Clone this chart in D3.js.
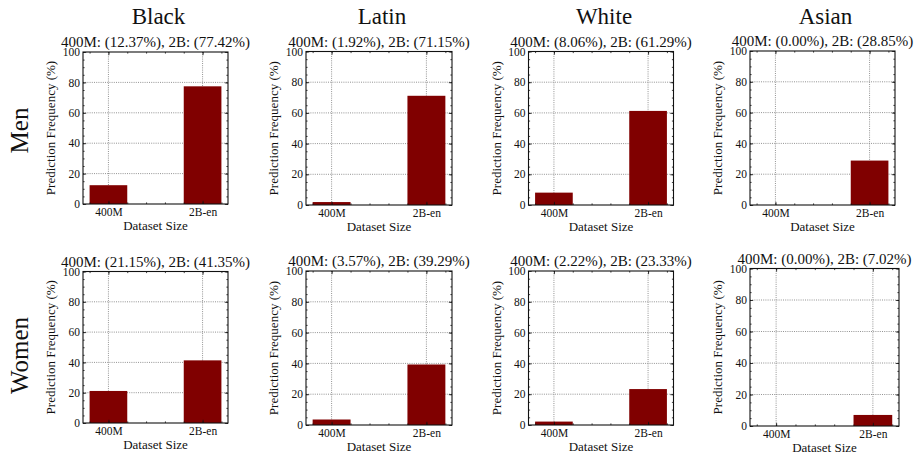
<!DOCTYPE html>
<html><head><meta charset="utf-8">
<script src="https://cdn.jsdelivr.net/npm/d3@7"></script>
<style>
body{margin:0;background:#fff}
svg{display:block}
svg text{font-family:"Liberation Serif","Times New Roman",serif !important;fill:#111}
</style>
</head><body><svg id="c" width="919" height="456" font-family="Liberation Serif, serif"></svg>
<script>
// ---- data ----
const races = ["Black", "Latin", "White", "Asian"];
const genders = ["Men", "Women"];
const datasets = ["400M", "2B-en"];
const men400M = [12.37, 1.92, 8.06, 0.00];
const men2B = [77.42, 71.15, 61.29, 28.85];
const women400M = [21.15, 3.57, 2.22, 0.00];
const women2B = [41.35, 39.29, 23.33, 7.02];
const yTicks = [0, 20, 40, 60, 80, 100];
const yMinorTicks = d3.range(0, 101, 5);
const xMinorTicks = [-0.2, 0, 0.2, 0.4, 0.6, 0.8, 1.0, 1.2];

const values = [[men400M, men2B], [women400M, women2B]];

// ---- layout: [left, top, width, height] of each panel's plot area ----
const panelBoxes = [
  [[83, 52, 145, 152], [306, 51.5, 146, 153.5], [528.5, 51.5, 145, 153.5], [750, 51, 145, 154]],
  [[83, 271.5, 145, 151.5], [306, 271, 146, 154], [528.5, 271, 145, 154], [750, 268.5, 149, 157.5]]
];
const rowLabelCenters = [130.5, 355.5];
const SERIF = "'Liberation Serif', 'Times New Roman', serif";

const svg = d3.select("#c");
const barColor = "#800000";
const fmt = v => v.toFixed(2) + "%";

genders.forEach((g, r) => {
  svg.append("text")
    .attr("transform", `translate(28,${rowLabelCenters[r]}) rotate(-90)`)
    .attr("text-anchor", "middle")
    .attr("font-family", SERIF)
    .style("font-size", "25px")
    .text(g);

  races.forEach((race, c) => {
    const [L, T, W, H] = panelBoxes[r][c];
    const B = T + H, R = L + W;
    const v0 = values[r][0][c], v1 = values[r][1][c];
    const x = d3.scaleLinear().domain([-0.27, 1.27]).range([L, R]);
    const y = d3.scaleLinear().domain([0, 100]).range([B, T]);
    const gp = svg.append("g");

    // grid
    gp.selectAll(".vg").data([0, 1]).join("line")
      .attr("x1", d => x(d)).attr("x2", d => x(d)).attr("y1", T).attr("y2", B)
      .attr("stroke", "#777").attr("stroke-width", 0.8).attr("stroke-dasharray", "1,1.2");
    gp.selectAll(".hg").data(yTicks.slice(1, -1)).join("line")
      .attr("x1", L).attr("x2", R).attr("y1", d => y(d)).attr("y2", d => y(d))
      .attr("stroke", "#777").attr("stroke-width", 0.8).attr("stroke-dasharray", "1,1.2");

    // bars
    gp.selectAll(".bar").data([v0, v1]).join("rect")
      .attr("x", (d, i) => x(i - 0.2))
      .attr("width", (d, i) => x(i + 0.2) - x(i - 0.2))
      .attr("y", d => y(d))
      .attr("height", d => y(0) - y(d))
      .attr("fill", barColor);

    // axes (inward ticks on all sides)
    const styleAxis = sel => {
      sel.attr("font-family", SERIF).attr("font-size", null);
      sel.select(".domain").remove();
      sel.selectAll(".tick line").attr("stroke", "#111").attr("stroke-width", 0.8);
      sel.selectAll("text").attr("font-family", SERIF).style("font-size", "11.5px").attr("fill", "#111");
    };
    gp.append("g").attr("transform", `translate(${L},0)`)
      .call(d3.axisLeft(y).tickValues(yMinorTicks).tickSize(-1.6).tickFormat("")).call(styleAxis);
    gp.append("g").attr("transform", `translate(${R},0)`)
      .call(d3.axisRight(y).tickValues(yMinorTicks).tickSize(-1.6).tickFormat("")).call(styleAxis);
    gp.append("g").attr("transform", `translate(${L},0)`)
      .call(d3.axisLeft(y).tickValues(yTicks).tickSize(-3.2).tickPadding(3).tickFormat(d3.format("d"))).call(styleAxis);
    gp.append("g").attr("transform", `translate(${R},0)`)
      .call(d3.axisRight(y).tickValues(yTicks).tickSize(-3.2).tickFormat("")).call(styleAxis);
    gp.append("g").attr("transform", `translate(0,${B})`)
      .call(d3.axisBottom(x).tickValues(xMinorTicks).tickSize(-1.6).tickFormat("")).call(styleAxis);
    gp.append("g").attr("transform", `translate(0,${T})`)
      .call(d3.axisTop(x).tickValues(xMinorTicks).tickSize(-1.6).tickFormat("")).call(styleAxis);
    gp.append("g").attr("transform", `translate(0,${B})`)
      .call(d3.axisBottom(x).tickValues([0, 1]).tickSize(-3.2).tickPadding(3.8).tickFormat(i => datasets[i])).call(styleAxis);
    gp.append("g").attr("transform", `translate(0,${T})`)
      .call(d3.axisTop(x).tickValues([0, 1]).tickSize(-3.2).tickFormat("")).call(styleAxis);

    // frame
    gp.append("rect").attr("x", L).attr("y", T).attr("width", W).attr("height", H)
      .attr("fill", "none").attr("stroke", "#111").attr("stroke-width", 1.1);

    // labels
    gp.append("text")
      .attr("transform", `translate(${L - 28},${(T + B) / 2}) rotate(-90)`)
      .attr("text-anchor", "middle").attr("font-family", SERIF).style("font-size", "13px")
      .text("Prediction Frequency (%)");
    gp.append("text")
      .attr("x", (L + R) / 2).attr("y", B + 25.5)
      .attr("text-anchor", "middle").attr("font-family", SERIF).style("font-size", "13px")
      .text("Dataset Size");
    gp.append("text")
      .attr("x", (L + R) / 2).attr("y", T - 5)
      .attr("text-anchor", "middle").attr("font-family", SERIF).style("font-size", "15px")
      .text(`400M: (${fmt(v0)}), 2B: (${fmt(v1)})`);
    if (r === 0) {
      svg.append("text")
        .attr("x", (L + R) / 2 + 3).attr("y", 24)
        .attr("text-anchor", "middle").attr("font-family", SERIF).style("font-size", "23px")
        .text(race);
    }
  });
});
</script>
</body></html>
